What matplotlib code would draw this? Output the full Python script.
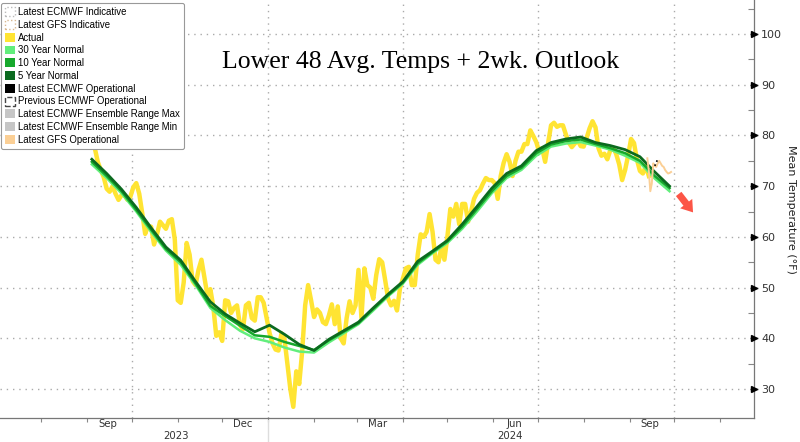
import matplotlib
matplotlib.use("Agg")
import matplotlib.pyplot as plt
import matplotlib.dates as mdates
from matplotlib.patches import Patch
import pandas as pd

# Actual lower-48 mean temperature, every 2 days from 2023-09-04
actual_start = "2023-09-04"
actual_vals = [
    80.0, 77.5, 74.8, 73.2, 71.8, 69.5, 68.9, 70.0, 68.5, 67.3,
    68.2, 68.3, 67.3, 67.9, 69.8, 70.6, 68.5, 64.7, 60.6, 62.2,
    62.0, 58.5, 60.5, 63.0, 62.3, 61.6, 63.2, 63.5, 59.5, 47.5,
    47.0, 51.0, 58.8, 56.5, 51.3, 50.5, 53.5, 55.5, 52.0, 48.5,
    49.7, 46.2, 40.5, 41.2, 39.5, 47.5, 47.3, 45.0, 46.0, 46.5,
    42.6, 41.8, 46.5, 47.0, 44.0, 43.5, 48.1, 48.1, 47.0, 44.0,
    41.0, 39.0, 37.8, 37.6, 41.0, 40.0, 35.0, 30.0, 26.5, 33.5,
    31.0, 37.5, 46.5, 50.5, 47.5, 44.2, 45.7, 45.0, 43.2, 42.8,
    44.5, 46.7, 42.8, 46.3, 40.0, 39.0, 44.0, 47.3, 45.0, 46.5,
    53.5, 44.0, 53.8, 50.5, 50.0, 47.8, 52.5, 55.6, 55.0, 51.5,
    47.8, 46.5, 47.4, 45.5, 49.8, 51.8, 53.8, 54.1, 50.5, 50.5,
    56.5, 60.5, 60.0, 61.0, 64.5, 61.0, 55.5, 55.0, 58.0, 55.5,
    60.0, 65.5, 64.0, 66.5, 62.5, 66.5, 66.5, 63.0, 65.0, 67.5,
    68.7, 69.2, 70.5, 71.6, 71.2, 71.2, 70.6, 67.5, 72.0, 74.6,
    76.3, 74.8, 72.0, 75.0, 76.8, 76.8, 78.3, 78.3, 81.0, 79.9,
    78.7, 76.8, 77.5, 74.8, 78.5, 82.0, 82.5, 81.7, 82.0, 82.0,
    80.2, 78.6, 77.7, 78.4, 79.0, 77.9, 77.8, 79.5, 81.4, 82.8,
    81.6, 77.5, 76.0, 76.4, 75.3, 77.1, 77.6, 76.3, 74.3, 71.2,
    73.2, 76.0, 79.3, 78.5, 75.2, 73.0, 72.5, 74.0, 72.0,
]

# Normals, every 10 days from 2023-09-04
normal_start = "2023-09-04"
normal_30yr = [
    74.3, 71.6, 68.6, 65.0, 61.0, 57.3, 54.5, 50.5, 46.0, 43.6,
    41.5, 40.0, 39.3, 38.2, 37.4, 37.2, 39.2, 41.0, 42.8, 45.5,
    48.3, 50.8, 54.5, 56.8, 58.8, 61.6, 65.0, 68.6, 71.6, 73.2,
    76.0, 77.8, 78.4, 78.7, 78.0, 77.2, 76.0, 74.6, 71.5, 69.0,
]
normal_10yr = [
    74.8, 72.0, 69.0, 65.3, 61.4, 57.6, 55.0, 50.8, 46.4, 44.4,
    42.5, 40.6, 40.3, 39.3, 38.5, 37.7, 39.6, 41.3, 43.0, 45.8,
    48.5, 51.0, 54.8, 57.0, 59.1, 62.0, 65.5, 69.0, 72.0, 73.6,
    76.5, 78.2, 78.9, 79.2, 78.3, 77.5, 76.5, 75.0, 72.0, 69.6,
]
normal_5yr = [
    75.3, 72.5, 69.4, 65.8, 61.8, 58.0, 55.4, 51.2, 47.2, 44.8,
    43.0, 41.3, 42.6, 40.8, 38.8, 37.6, 39.8, 41.5, 43.2, 46.0,
    48.7, 51.2, 55.2, 57.2, 59.3, 62.5, 66.0, 69.6, 72.5, 74.0,
    77.0, 78.6, 79.3, 79.7, 78.6, 78.0, 77.2, 75.8, 72.8, 70.0,
]

# Latest GFS operational, daily
gfs_start = "2024-09-13"
gfs_vals = [75.5, 73.0, 69.0, 70.5, 74.5, 74.0, 73.8, 74.5, 75.0, 74.5,
            74.0, 73.8, 73.2, 72.8, 72.5, 72.6, 72.8]

# Latest ECMWF operational, daily (short visible stub)
ecmwf_start = "2024-09-18"
ecmwf_vals = [74.0, 74.6, 75.4]

actual_dates = pd.date_range(actual_start, periods=len(actual_vals), freq="2D")
normal_dates = pd.date_range(normal_start, periods=len(normal_30yr), freq="10D")
gfs_dates = pd.date_range(gfs_start, periods=len(gfs_vals), freq="D")
ecmwf_dates = pd.date_range(ecmwf_start, periods=len(ecmwf_vals), freq="D")

c_actual = "#ffe433"
c_30 = "#62ee7c"
c_10 = "#17a82c"
c_5 = "#0b6a1f"
c_gfs = "#fbcf95"

fig = plt.figure(figsize=(8, 4.42), dpi=100)
ax = fig.add_axes([0, 24 / 442, 754 / 800, 418 / 442])

ax.plot(actual_dates, actual_vals, color=c_actual, lw=3.2, zorder=2,
        solid_joinstyle="round")
ax.plot(normal_dates, normal_30yr, color=c_30, lw=1.8, zorder=3)
ax.plot(normal_dates, normal_10yr, color=c_10, lw=1.8, zorder=4)
ax.plot(normal_dates, normal_5yr, color=c_5, lw=2.0, zorder=5)
ax.plot(gfs_dates, gfs_vals, color=c_gfs, lw=1.4, zorder=6)
ax.plot(ecmwf_dates, ecmwf_vals, color="black", lw=1.2, ls=":", zorder=7)

ax.set_xlim(pd.Timestamp("2023-07-04"), pd.Timestamp("2024-11-24"))
ax.set_ylim(24.3, 106.7)

# y axis on the right
ax.yaxis.tick_right()
ax.yaxis.set_label_position("right")
yticks = [30, 40, 50, 60, 70, 80, 90, 100]
ax.set_yticks(yticks)
ax.set_yticks([35, 45, 55, 65, 75, 85, 95, 105], minor=True)
ax.tick_params(axis="y", which="major", direction="inout", length=6,
               width=1, colors="#555555", labelcolor="#333333",
               labelsize=8, pad=2)
ax.tick_params(axis="y", which="minor", direction="in", length=4,
               width=0.8, colors="#888888")
ax.plot([1.0] * len(yticks), yticks, marker=">", ms=4, color="black",
        ls="none", transform=ax.get_yaxis_transform(), clip_on=False,
        zorder=10)
ax.set_ylabel("Mean Temperature (°F)", rotation=270, labelpad=10,
              fontsize=8, color="#222222")

# x axis: grid at quarter starts, ticks at month starts
ax.xaxis.set_major_locator(mdates.MonthLocator(bymonth=[1, 4, 7, 10]))
ax.xaxis.set_minor_locator(mdates.MonthLocator())
ax.xaxis.set_major_formatter(plt.NullFormatter())
ax.tick_params(axis="x", which="both", direction="out", length=3,
               width=0.8, colors="#888888")

month_labels = ["Sep", "Dec", "Mar", "Jun", "Sep"]
month_label_dates = ["2023-09-15", "2023-12-15", "2024-03-15",
                     "2024-06-15", "2024-09-15"]
for lab, d in zip(month_labels, month_label_dates):
    ax.text(pd.Timestamp(d), -0.0144, lab, transform=ax.get_xaxis_transform(),
            ha="center", va="center", fontsize=7.3, color="#333333")
year_labels = ["2023", "2024"]
year_label_dates = ["2023-10-31", "2024-06-12"]
for lab, d in zip(year_labels, year_label_dates):
    ax.text(pd.Timestamp(d), -0.0435, lab, transform=ax.get_xaxis_transform(),
            ha="center", va="center", fontsize=7.3, color="#333333")
ax.plot([pd.Timestamp("2024-01-01")] * 2, [-0.005, -0.06], color="#dddddd",
        lw=1, transform=ax.get_xaxis_transform(), clip_on=False)

ax.grid(True, which="major", axis="both", color="#aaaaaa", lw=1,
        linestyle=(0, (1, 3.5)))

for side in ["left", "top"]:
    ax.spines[side].set_visible(False)
for side in ["right", "bottom"]:
    ax.spines[side].set_color("#777777")
    ax.spines[side].set_linewidth(0.9)

# legend
handles = [
    Patch(facecolor="white", edgecolor="#bbbbbb", ls=":", label="Latest ECMWF Indicative"),
    Patch(facecolor="white", edgecolor="#d8b890", ls=":", label="Latest GFS Indicative"),
    Patch(facecolor=c_actual, label="Actual"),
    Patch(facecolor=c_30, label="30 Year Normal"),
    Patch(facecolor=c_10, label="10 Year Normal"),
    Patch(facecolor=c_5, label="5 Year Normal"),
    Patch(facecolor="black", label="Latest ECMWF Operational"),
    Patch(facecolor="white", edgecolor="#444444", ls="--", label="Previous ECMWF Operational"),
    Patch(facecolor="#c6c6c6", label="Latest ECMWF Ensemble Range Max"),
    Patch(facecolor="#c6c6c6", label="Latest ECMWF Ensemble Range Min"),
    Patch(facecolor=c_gfs, label="Latest GFS Operational"),
]
leg = ax.legend(handles=handles, loc="upper left", bbox_to_anchor=(0.001, 0.993),
                prop={"family": "Liberation Sans", "size": 6.9}, frameon=True,
                handlelength=1.05, handleheight=1.05,
                handletextpad=0.35, labelspacing=0.29, borderpad=0.42,
                borderaxespad=0, fancybox=True)
leg.get_frame().set_edgecolor("#999999")
leg.get_frame().set_linewidth(0.8)
leg.get_frame().set_alpha(1)
leg.set_zorder(20)

# title overlay and outlook arrow
ax.text(0.558, 0.852, "Lower 48 Avg. Temps + 2wk. Outlook", transform=ax.transAxes,
        ha="center", va="center", fontsize=18.5, family="Liberation Serif",
        color="black")
ax.annotate("", xy=(pd.Timestamp("2024-10-15"), 64.4),
            xytext=(pd.Timestamp("2024-10-03"), 68.9),
            arrowprops=dict(arrowstyle="simple,head_length=0.8,head_width=1.1,tail_width=0.5",
                            color="#fc5546", lw=0))

fig.savefig("out.png", dpi=100)
